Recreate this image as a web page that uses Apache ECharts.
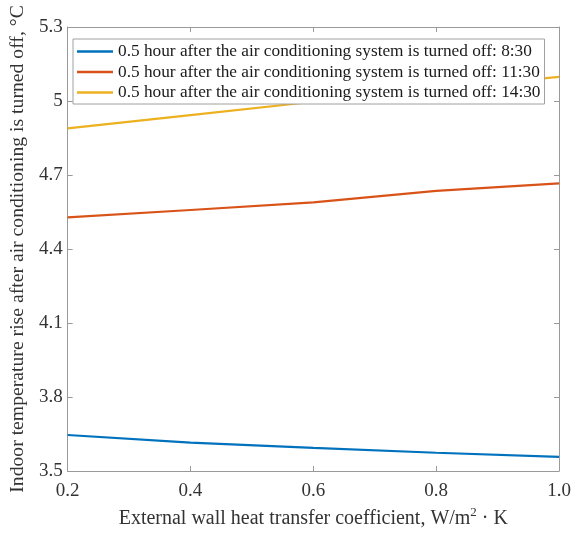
<!DOCTYPE html>
<html>
<head>
<meta charset="utf-8">
<script src="https://cdn.jsdelivr.net/npm/echarts@6/dist/echarts.min.js"></script>
<style>
  html, body { margin: 0; padding: 0; background: #ffffff; }
  #chart { width: 587px; height: 534px; }
</style>
</head>
<body>
<div id="chart"></div>
<script>
// Heat transfer coefficient of the external wall (W/m²·K)
const coefficients = [0.2, 0.4, 0.6, 0.8, 1.0];

// Indoor temperature rise 0.5 h after the AC is switched off (°C)
const rise0830 = [3.646, 3.615, 3.594, 3.574, 3.557];
const rise1130 = [4.528, 4.558, 4.589, 4.636, 4.666];
const rise1430 = [4.889, 4.943, 4.997, 5.050, 5.098];

const seriesNames = [
  '0.5 hour after the air conditioning system is turned off: 8:30',
  '0.5 hour after the air conditioning system is turned off: 11:30',
  '0.5 hour after the air conditioning system is turned off: 14:30'
];
const seriesColors = ['#0072BD', '#D95319', '#EDB120'];

const xTickLabels = ['0.2', '0.4', '0.6', '0.8', '1.0'];
const yTickLabels = ['3.5', '3.8', '4.1', '4.4', '4.7', '5', '5.3'];

const FONT = '"Liberation Serif", "Times New Roman", serif';
const AXIS_GRAY = '#9a9a9a';
const TEXT_GRAY = '#333333';

const chart = echarts.init(document.getElementById('chart'), null, { renderer: 'canvas' });

const pairs = arr => coefficients.map((x, i) => [x, arr[i]]);

const xLabel = v => {
  const s = v.toFixed(1);
  return xTickLabels.includes(s) ? s : '';
};
const yLabel = v => {
  const s = String(+v.toFixed(1));
  return yTickLabels.includes(s) ? s : '';
};

const tickStyle = { show: true, inside: true, length: 5, lineStyle: { color: AXIS_GRAY, width: 1 } };

chart.setOption({
  animation: false,
  backgroundColor: '#ffffff',
  grid: { left: 67, right: 28, top: 27, bottom: 63, containLabel: false },
  legend: {
    orient: 'vertical',
    left: 73,
    top: 39,
    padding: [4, 4, 3, 4],
    itemGap: 3.5,
    itemWidth: 36,
    itemHeight: 2.5,
    icon: 'rect',
    backgroundColor: '#ffffff',
    borderColor: '#a0a0a0',
    borderWidth: 1,
    borderRadius: 0,
    textStyle: { fontFamily: FONT, fontSize: 17.3, color: '#1a1a1a' },
    data: seriesNames
  },
  xAxis: [
    {
      type: 'value', min: 0.2, max: 1.0, interval: 0.2,
      name: 'External wall heat transfer coefficient, W/m{sup|2} · K',
      nameLocation: 'middle', nameGap: 34,
      nameTextStyle: {
        fontFamily: FONT, fontSize: 20, color: TEXT_GRAY,
        rich: { sup: { fontFamily: FONT, fontSize: 13, color: TEXT_GRAY, verticalAlign: 'top', padding: [0, 0, 12, 0] } }
      },
      axisLine: { show: true, lineStyle: { color: AXIS_GRAY, width: 1 } },
      axisTick: tickStyle,
      splitLine: { show: false },
      axisLabel: { formatter: xLabel, fontFamily: FONT, fontSize: 19, color: TEXT_GRAY, margin: 11 }
    },
    {
      type: 'value', min: 0.2, max: 1.0, interval: 0.2, position: 'top',
      axisLine: { show: true, lineStyle: { color: AXIS_GRAY, width: 1 } },
      axisTick: tickStyle,
      splitLine: { show: false },
      axisLabel: { show: false }
    }
  ],
  yAxis: [
    {
      type: 'value', min: 3.5, max: 5.3, interval: 0.3,
      name: 'Indoor temperature rise after air conditioning is turned off, °C',
      nameLocation: 'middle', nameGap: 31,
      nameTextStyle: { fontFamily: FONT, fontSize: 19.7, color: TEXT_GRAY },
      axisLine: { show: true, lineStyle: { color: AXIS_GRAY, width: 1 } },
      axisTick: tickStyle,
      splitLine: { show: false },
      axisLabel: { formatter: yLabel, fontFamily: FONT, fontSize: 19, color: TEXT_GRAY, margin: 5 }
    },
    {
      type: 'value', min: 3.5, max: 5.3, interval: 0.3, position: 'right',
      axisLine: { show: true, lineStyle: { color: AXIS_GRAY, width: 1 } },
      axisTick: tickStyle,
      splitLine: { show: false },
      axisLabel: { show: false }
    }
  ],
  series: [rise0830, rise1130, rise1430].map((arr, i) => ({
    name: seriesNames[i],
    type: 'line',
    data: pairs(arr),
    showSymbol: false,
    symbol: 'none',
    smooth: false,
    color: seriesColors[i],
    lineStyle: { color: seriesColors[i], width: 2.2 },
    z: 2
  }))
});
</script>
</body>
</html>
